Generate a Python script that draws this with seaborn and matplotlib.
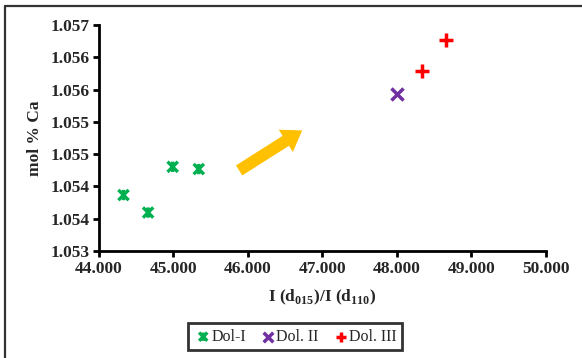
import numpy as np
import pandas as pd
import matplotlib
matplotlib.use("Agg")
import matplotlib.pyplot as plt
import seaborn as sns
from matplotlib.path import Path
from matplotlib.markers import MarkerStyle
from matplotlib.lines import Line2D
from matplotlib.patches import FancyArrowPatch

# data
dol1_x = [44.33, 44.66, 44.99, 45.34]
dol1_y = [1.05399, 1.05368, 1.05449, 1.05445]
dol2_x = [48.00]
dol2_y = [1.05578]
dol3_x = [48.33, 48.66]
dol3_y = [1.05619, 1.05673]
labels = ["Dol-I", "Dol. II", "Dol. III"]

x_ticks = [44, 45, 46, 47, 48, 49, 50]
y_ticks = np.linspace(1.053, 1.057, 8)

sns.set_style("white")
plt.rcParams["font.family"] = ["Liberation Serif", "DejaVu Serif"]
plt.rcParams["mathtext.fontset"] = "custom"
plt.rcParams["mathtext.rm"] = "Liberation Serif"
plt.rcParams["mathtext.bf"] = "Liberation Serif:bold"

# excel "star" marker: X with a vertical bar through it
star_path = Path(
    [(-1, -1), (1, 1), (-1, 1), (1, -1), (0, 1), (0, -1)],
    [Path.MOVETO, Path.LINETO, Path.MOVETO, Path.LINETO, Path.MOVETO, Path.LINETO],
)
star = MarkerStyle(star_path, fillstyle="none")

fig = plt.figure(figsize=(5.82, 3.58), dpi=100)
ax = fig.add_axes([0.170, 0.299, 0.768, 0.631])

df1 = pd.DataFrame({"x": dol1_x, "y": dol1_y})
df2 = pd.DataFrame({"x": dol2_x, "y": dol2_y})
df3 = pd.DataFrame({"x": dol3_x, "y": dol3_y})

sns.scatterplot(data=df1, x="x", y="y", ax=ax, marker=star, s=55,
                color="#00B050", edgecolor="#00B050", linewidth=2.4, label=labels[0])
sns.scatterplot(data=df2, x="x", y="y", ax=ax, marker="x", s=75,
                color="#7030A0", linewidth=2.5, label=labels[1])
sns.scatterplot(data=df3, x="x", y="y", ax=ax, marker="+", s=95,
                color="#FF0000", linewidth=2.5, label=labels[2])

arrow = FancyArrowPatch((45.85, 1.0544), (46.76, 1.05516),
                        arrowstyle="simple,head_length=1.4,head_width=1.9,tail_width=0.85",
                        mutation_scale=10, color="#FFC000", lw=0)
ax.add_patch(arrow)

ax.set_xlim(44, 50)
ax.set_ylim(1.053, 1.057)
ax.set_xticks(x_ticks)
ax.set_yticks(y_ticks)
ax.set_xticklabels([f"{v:.3f}" for v in x_ticks])
ax.set_yticklabels([f"{v:.3f}" for v in y_ticks])
for lab in ax.get_xticklabels() + ax.get_yticklabels():
    lab.set_fontweight("bold")
    lab.set_fontsize(12.5)

sns.despine(ax=ax)
for s in ["left", "bottom"]:
    ax.spines[s].set_linewidth(2)
    ax.spines[s].set_color("black")
ax.tick_params(axis="both", direction="out", length=4, width=2, color="black", pad=3,
               bottom=True, left=True)

ax.set_xlabel(r"I (d$_{\mathbf{015}}$)/I (d$_{\mathbf{110}}$)", fontsize=12.5,
              fontweight="bold", labelpad=8)
ax.set_ylabel("mol % Ca", fontsize=12.5, fontweight="bold", labelpad=5)

ax.get_legend().remove()
handles, labs = ax.get_legend_handles_labels()
leg = fig.legend(handles, labs, loc="center", bbox_to_anchor=(0.507, 0.059), ncol=3,
                 frameon=True, fancybox=False, fontsize=11.5, handletextpad=-0.1,
                 columnspacing=0.8, handlelength=1.2, borderpad=0.35, markerscale=0.8)
leg.get_frame().set_edgecolor("black")
leg.get_frame().set_linewidth(2)

# outer border, only left and top visible
fig.add_artist(Line2D([5 / 582, 5 / 582], [0, 1 - 6 / 358], transform=fig.transFigure,
                      color="#333333", lw=1.6))
fig.add_artist(Line2D([5 / 582, 1], [1 - 6 / 358, 1 - 6 / 358], transform=fig.transFigure,
                      color="#333333", lw=1.6))

fig.savefig("out.png", dpi=100)
